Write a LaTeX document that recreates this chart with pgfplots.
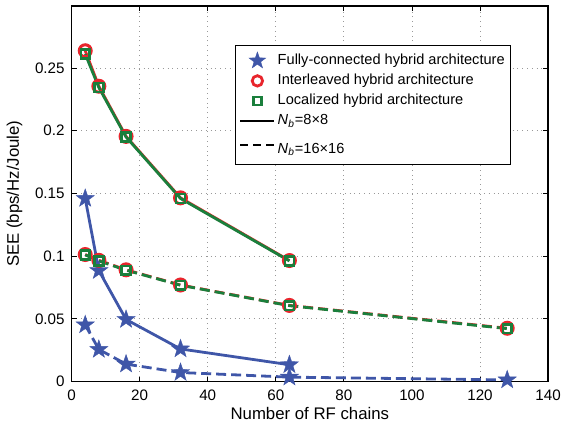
\documentclass[border=0pt]{standalone}
\usepackage{fontspec}
\setmainfont{Liberation Sans}
\usepackage{pgfplots}
\pgfplotsset{compat=1.18}
\definecolor{cblue}{RGB}{63,86,168}
\definecolor{cred}{RGB}{232,37,44}
\definecolor{cgreen}{RGB}{26,127,60}
\pgfdeclareplotmark{fstar}{%
  \pgfpathmoveto{\pgfpointpolar{90}{\pgfplotmarksize}}%
  \pgfpathlineto{\pgfpointpolar{126}{0.4\pgfplotmarksize}}%
  \pgfpathlineto{\pgfpointpolar{162}{\pgfplotmarksize}}%
  \pgfpathlineto{\pgfpointpolar{198}{0.4\pgfplotmarksize}}%
  \pgfpathlineto{\pgfpointpolar{234}{\pgfplotmarksize}}%
  \pgfpathlineto{\pgfpointpolar{270}{0.4\pgfplotmarksize}}%
  \pgfpathlineto{\pgfpointpolar{306}{\pgfplotmarksize}}%
  \pgfpathlineto{\pgfpointpolar{342}{0.4\pgfplotmarksize}}%
  \pgfpathlineto{\pgfpointpolar{18}{\pgfplotmarksize}}%
  \pgfpathlineto{\pgfpointpolar{54}{0.4\pgfplotmarksize}}%
  \pgfpathclose
  \pgfusepathqfillstroke
}
\begin{document}
\begin{tikzpicture}
\begin{axis}[
  scale only axis,
  width=238.5pt, height=188pt,
  xmin=0, xmax=140, ymin=0, ymax=0.2995,
  xtick={0,20,...,140},
  ytick={0,0.05,0.1,0.15,0.2,0.25},
  yticklabels={0,0.05,0.1,0.15,0.2,0.25},
  scaled y ticks=false,
  /pgf/number format/assume math mode=true,
  font=\fontsize{7.6}{9}\selectfont,
  tick label style={font=\fontsize{7.6}{9}\selectfont},
  xlabel={Number of RF chains},
  ylabel={SEE (bps/Hz/Joule)},
  label style={font=\fontsize{8.4}{10}\selectfont},
  xlabel style={yshift=3.5pt},
  ylabel style={yshift=-0.5pt},
  xticklabel style={yshift=-0.5pt},
  grid=major,
  major grid style={dotted, gray!80, line width=0.4pt},
  axis line style={line width=0.6pt},
  tick style={black, line width=0.4pt},
  major tick length=2.5pt,
  legend style={at={(0.342,0.896)}, anchor=north west, draw=black, line width=0.5pt,
    font=\fontsize{7.3}{8.5}\selectfont, row sep=1.3pt, inner xsep=2pt, inner ysep=3.2pt,
    nodes={inner sep=1pt, text depth=0.15em}},
  legend cell align=left,
  clip=false,
]
\addlegendimage{only marks, mark=fstar, mark size=4.4pt, color=cblue, fill=cblue, line width=0.2pt}
\addlegendentry{Fully-connected hybrid architecture}
\addlegendimage{only marks, mark=o, mark size=2.6pt, color=cred, line width=1.4pt}
\addlegendentry{Interleaved hybrid architecture}
\addlegendimage{only marks, mark=square, mark size=2pt, color=cgreen, line width=1.4pt}
\addlegendentry{Localized hybrid architecture}
\addlegendimage{black, line width=1.3pt}
\addlegendentry{\textit{N}\textsubscript{\textit{b}}=8×8}
\addlegendimage{black, line width=1.3pt, dash pattern=on 4pt off 2.5pt}
\addlegendentry{\rule{0pt}{9.5pt}\textit{N}\textsubscript{\textit{b}}=16×16}

% Fully-connected
\addplot[forget plot, cblue, line width=1.4pt, mark=fstar, mark size=4.8pt, mark options={solid, fill=cblue, line width=0.2pt}]
  coordinates {(4,0.146) (8,0.0885) (16,0.0495) (32,0.026) (64,0.0134)};
\addplot[forget plot, cblue, line width=1.4pt, dash pattern=on 5pt off 2.5pt, mark=fstar, mark size=4.8pt, mark options={solid, fill=cblue, line width=0.2pt}]
  coordinates {(4,0.0452) (8,0.0256) (16,0.0139) (32,0.0072) (64,0.0035) (128,0.0013)};
% Interleaved
\addplot[forget plot, cred, line width=1.4pt, mark=o, mark size=3pt, mark options={solid, line width=1.5pt}]
  coordinates {(4,0.2638) (8,0.2355) (16,0.1955) (32,0.1465) (64,0.0965)};
\addplot[forget plot, cred, line width=1.4pt, dash pattern=on 5pt off 2.5pt, mark=o, mark size=3pt, mark options={solid, line width=1.5pt}]
  coordinates {(4,0.1013) (8,0.0967) (16,0.0891) (32,0.0770) (64,0.0607) (128,0.0425)};
% Localized
\addplot[forget plot, cgreen, line width=1.4pt, mark=square, mark size=2.2pt, mark options={solid, line width=1.3pt}]
  coordinates {(4,0.2612) (8,0.2345) (16,0.1950) (32,0.1460) (64,0.0962)};
\addplot[forget plot, cgreen, line width=1.4pt, dash pattern=on 5pt off 2.5pt, mark=square, mark size=2.2pt, mark options={solid, line width=1.3pt}]
  coordinates {(4,0.1010) (8,0.0962) (16,0.0888) (32,0.0768) (64,0.0605) (128,0.0422)};
\end{axis}
\useasboundingbox ([xshift=-35.5pt,yshift=-22pt]current axis.south west) rectangle ([xshift=12.5pt,yshift=3pt]current axis.north east);
\end{tikzpicture}
\end{document}
